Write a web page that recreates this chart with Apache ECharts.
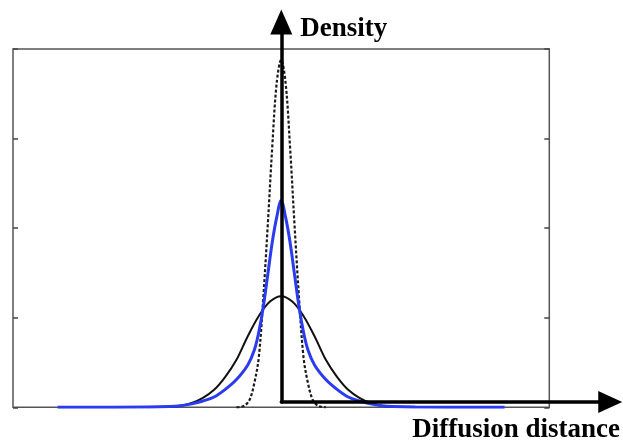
<!DOCTYPE html>
<html>
<head>
<meta charset="utf-8">
<script src="https://cdn.jsdelivr.net/npm/echarts@6/dist/echarts.min.js"></script>
<style>
html,body{margin:0;padding:0;background:#fff;}
#chart{width:623px;height:444px;}
</style>
</head>
<body>
<div id="chart"></div>
<script>
// Wide Gaussian (black solid)
const solidX = [-3, -2.5, -2.25, -2, -1.75, -1.5, -1.25, -1, -0.75, -0.5, -0.25, 0, 0.25, 0.5, 0.75, 1, 1.25, 1.5, 1.75, 2, 2.25, 2.5, 3];
const solidY = [0, 0.006, 0.018, 0.048, 0.105, 0.195, 0.34, 0.53, 0.79, 1.02, 1.18, 1.24, 1.18, 1.02, 0.79, 0.53, 0.34, 0.195, 0.105, 0.048, 0.018, 0.006, 0];

// Peaked heavy-tailed density (blue)
const blueX = [-5, -3, -2.5, -2.25, -2, -1.75, -1.5, -1.25, -1, -0.75, -0.6, -0.5, -0.4, -0.3, -0.2, -0.1, 0, 0.1, 0.2, 0.3, 0.4, 0.5, 0.6, 0.75, 1, 1.25, 1.5, 1.75, 2, 2.25, 2.5, 3, 5];
const blueY = [0, 0.002, 0.008, 0.018, 0.038, 0.07, 0.115, 0.2, 0.31, 0.47, 0.64, 0.84, 1.12, 1.48, 1.84, 2.12, 2.31, 2.12, 1.84, 1.48, 1.12, 0.84, 0.64, 0.47, 0.31, 0.2, 0.115, 0.07, 0.038, 0.018, 0.008, 0.002, 0];

// Narrow Gaussian (black dashed)
const dashX = [-1, -0.9, -0.8, -0.7, -0.6, -0.5, -0.4, -0.3, -0.2, -0.1, 0, 0.1, 0.2, 0.3, 0.4, 0.5, 0.6, 0.7, 0.8, 0.9, 1];
const dashY = [0, 0.005, 0.025, 0.09, 0.27, 0.56, 1.22, 2.03, 2.9, 3.62, 3.88, 3.62, 2.9, 2.03, 1.22, 0.56, 0.27, 0.09, 0.025, 0.005, 0];

const yTicks = [0, 1, 2, 3, 4];
const xName = 'Diffusion distance';
const yName = 'Density';

const pairs = (xs, ys) => xs.map((x, i) => [x, ys[i]]);

const nameFont = {
  fontFamily: '"Liberation Serif", "Times New Roman", serif',
  fontWeight: 'bold',
  fontSize: 27,
  color: '#000'
};

const tickAxis = (pos) => ({
  gridIndex: 0, type: 'value', min: yTicks[0], max: yTicks[yTicks.length - 1], interval: 1, position: pos,
  axisLine: {show: false, onZero: false},
  axisTick: {show: true, inside: true, length: 5, lineStyle: {color: '#444', width: 1.5}},
  axisLabel: {show: false}, splitLine: {show: false}
});

const chart = echarts.init(document.getElementById('chart'), null, {renderer: 'canvas'});
chart.setOption({
  animation: false,
  backgroundColor: '#fff',
  grid: [
    {left: 13, right: 73.7, top: 49, bottom: 36.7, show: true, borderColor: '#555', borderWidth: 1.5, backgroundColor: 'transparent'},
    {left: 281.3, right: 12, top: 22, bottom: 36.5, show: false}
  ],
  xAxis: [
    {gridIndex: 0, type: 'value', min: -6, max: 6, axisLine: {show: false, onZero: false}, axisTick: {show: false}, axisLabel: {show: false}, splitLine: {show: false}},
    {gridIndex: 1, type: 'value', min: 0, max: 1, z: 10,
      axisLine: {show: true, onZero: false, symbol: ['none', 'triangle'], symbolSize: [22, 24], lineStyle: {color: '#000', width: 3.5}},
      axisTick: {show: false}, axisLabel: {show: false}, splitLine: {show: false},
      name: xName, nameLocation: 'end', nameGap: -198, nameMoveOverlap: false,
      nameTextStyle: Object.assign({align: 'left', verticalAlign: 'top', padding: [15, 0, 0, 0]}, nameFont)}
  ],
  yAxis: [
    tickAxis('left'),
    tickAxis('right'),
    {gridIndex: 1, type: 'value', min: 0, max: 1, z: 10,
      axisLine: {show: true, onZero: false, symbol: ['none', 'triangle'], symbolSize: [22, 25], lineStyle: {color: '#000', width: 3.5}},
      axisTick: {show: false}, axisLabel: {show: false}, splitLine: {show: false},
      name: yName, nameLocation: 'end', nameGap: -7, nameMoveOverlap: false,
      nameTextStyle: Object.assign({align: 'left', verticalAlign: 'middle', padding: [0, 0, 0, 19]}, nameFont)}
  ],
  series: [
    {type: 'line', xAxisIndex: 0, yAxisIndex: 0, data: pairs(solidX, solidY), smooth: 0.35, showSymbol: false,
      lineStyle: {color: '#111', width: 2}},
    {type: 'line', xAxisIndex: 0, yAxisIndex: 0, data: pairs(dashX, dashY), smooth: 0.35, showSymbol: false,
      lineStyle: {color: '#1a1a1a', width: 2.2, type: [3, 2]}},
    {type: 'line', xAxisIndex: 0, yAxisIndex: 0, data: pairs(blueX, blueY), smooth: 0.35, showSymbol: false,
      lineStyle: {color: '#2a3bf0', width: 3}}
  ]
});
</script>
</body>
</html>
